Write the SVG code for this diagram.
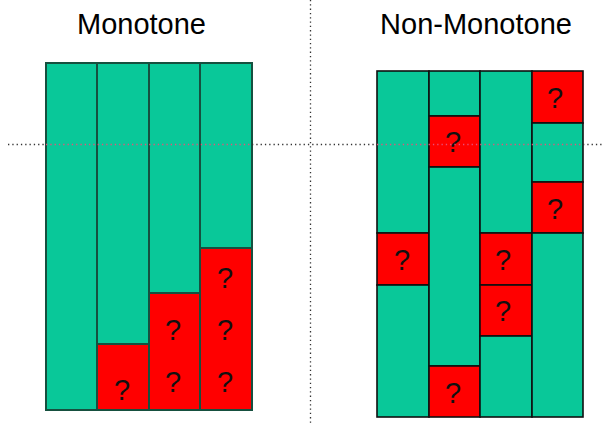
<svg xmlns="http://www.w3.org/2000/svg" width="603" height="424" viewBox="0 0 603 424">
  <style>
    .title { font-family: "Liberation Sans", Arial, sans-serif; font-size: 29px; fill: #000; text-anchor: middle; }
    .q { font-family: "Liberation Sans", Arial, sans-serif; font-size: 29px; fill: #111; text-anchor: middle; }
    .ok { fill: #09C899; }
    .unk { fill: #FF0000; }
    .left rect { stroke: #16503f; stroke-width: 2; }
    .right rect { stroke: #101010; stroke-width: 1.6; }
    .guide { stroke: #333; stroke-width: 1.3; stroke-dasharray: 1.3 3; fill: none; }
    .guide-on { stroke: #e8507a; stroke-width: 1.3; stroke-dasharray: 1.3 3; fill: none; }
  </style>
  <rect width="603" height="424" fill="#fff"/>

  <text class="title" x="141.5" y="34">Monotone</text>
  <text class="title" x="476" y="34">Non-Monotone</text>

  <!-- Monotone panel: unknown cells stack from the bottom -->
  <g id="monotone" class="left">
    <g id="m-col1">
      <rect class="ok" x="46" y="63" width="51" height="347"/>
    </g>
    <g id="m-col2">
      <rect class="ok" x="97" y="63" width="52" height="281"/>
      <rect class="unk" x="97" y="344" width="52" height="66"/>
      <text class="q" x="122" y="400">?</text>
    </g>
    <g id="m-col3">
      <rect class="ok" x="149" y="63" width="51" height="230"/>
      <rect class="unk" x="149" y="293" width="51" height="117"/>
      <text class="q" x="173" y="340">?</text>
      <text class="q" x="173" y="392">?</text>
    </g>
    <g id="m-col4">
      <rect class="ok" x="200" y="63" width="52" height="185"/>
      <rect class="unk" x="200" y="248" width="52" height="162"/>
      <text class="q" x="225" y="288">?</text>
      <text class="q" x="225" y="340">?</text>
      <text class="q" x="225" y="392">?</text>
    </g>
  </g>

  <!-- Non-monotone panel: unknown cells scattered -->
  <g id="non-monotone" class="right">
    <g id="n-col1">
      <rect class="ok" x="377" y="71" width="52" height="162"/>
      <rect class="unk" x="377" y="233" width="52" height="52"/>
      <rect class="ok" x="377" y="285" width="52" height="132"/>
      <text class="q" x="402" y="270">?</text>
    </g>
    <g id="n-col2">
      <rect class="ok" x="429" y="71" width="51" height="45"/>
      <rect class="unk" x="429" y="116" width="51" height="51"/>
      <rect class="ok" x="429" y="167" width="51" height="199"/>
      <rect class="unk" x="429" y="366" width="51" height="51"/>
      <text class="q" x="453" y="152">?</text>
      <text class="q" x="453" y="403">?</text>
    </g>
    <g id="n-col3">
      <rect class="ok" x="480" y="71" width="52" height="162"/>
      <rect class="unk" x="480" y="233" width="52" height="52"/>
      <rect class="unk" x="480" y="285" width="52" height="51"/>
      <rect class="ok" x="480" y="336" width="52" height="81"/>
      <text class="q" x="503" y="270">?</text>
      <text class="q" x="503" y="321">?</text>
    </g>
    <g id="n-col4">
      <rect class="unk" x="532" y="71" width="51" height="52"/>
      <rect class="ok" x="532" y="123" width="51" height="59"/>
      <rect class="unk" x="532" y="182" width="51" height="51"/>
      <rect class="ok" x="532" y="233" width="51" height="184"/>
      <text class="q" x="555" y="108">?</text>
      <text class="q" x="555" y="219">?</text>
    </g>
  </g>

  <!-- dotted guide lines -->
  <g id="guides">
    <line class="guide" x1="310.5" y1="0" x2="310.5" y2="424"/>
    <line class="guide" x1="8" y1="144.5" x2="46" y2="144.5"/>
    <line class="guide-on" x1="46" y1="144.5" x2="252" y2="144.5"/>
    <line class="guide" x1="252" y1="144.5" x2="377" y2="144.5"/>
    <line class="guide-on" x1="377" y1="144.5" x2="583" y2="144.5"/>
    <line class="guide" x1="583" y1="144.5" x2="602" y2="144.5"/>
  </g>
</svg>
